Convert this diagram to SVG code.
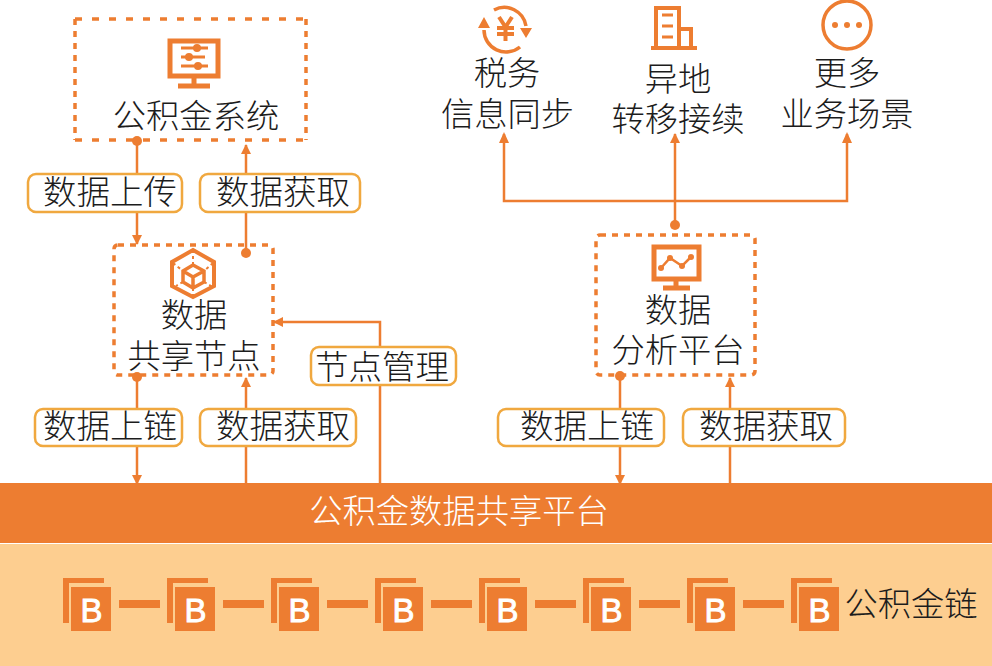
<svg xmlns="http://www.w3.org/2000/svg" width="992" height="666" viewBox="0 0 992 666">
<style>
.t{font-family:"Noto Sans CJK SC","Noto Sans",sans-serif;font-weight:300;font-size:33.3px;fill:#1c1c1c;text-anchor:middle}
.l{font-size:33.500px}
.box{fill:none;stroke:#ED7D31;stroke-width:3.5;stroke-dasharray:6 6}
.sys{stroke-dasharray:7 10}
.sysv{stroke-dasharray:6 6}
.lab{fill:#fff;stroke:#F0A83F;stroke-width:2.5}
.c{fill:none;stroke:#ED7D31;stroke-width:2.5}
.ic{fill:none;stroke:#ED7D31;stroke-width:5}
.ic4{fill:none;stroke:#ED7D31;stroke-width:4}
.ic3{fill:none;stroke:#ED7D31;stroke-width:3}
.f{fill:#ED7D31}
.d{fill:#ED7D31}
.b{font-family:"Liberation Sans",sans-serif;font-size:33px;fill:#fff;stroke:#fff;stroke-width:.9;text-anchor:middle}
</style>
<defs>
<marker id="a" markerWidth="12" markerHeight="14" refX="9" refY="6" orient="auto" markerUnits="userSpaceOnUse"><path d="M0 1L10 6L0 11Z" fill="#ED7D31"/></marker>
<g id="blk"><path d="M0 0H41V5H6V45H0Z" class="f"/><rect x="8" y="9" width="40" height="44" class="f"/><text x="28.5" y="44" class="b">B</text></g>
</defs>
<rect width="992" height="666" fill="#fff"/>
<g id="connectors">
<path class="c" d="M137 141V244" marker-end="url(#a)"/><circle class="d" cx="137" cy="141" r="5"/>
<path class="c" d="M246 253V145" marker-end="url(#a)"/><circle class="d" cx="246" cy="253" r="5"/>
<path class="c" d="M137 377V484" marker-end="url(#a)"/><circle class="d" cx="137" cy="377" r="5"/>
<path class="c" d="M246 484V378" marker-end="url(#a)"/>
<path class="c" d="M380 484V322H274" marker-end="url(#a)"/>
<path class="c" d="M620 376V484" marker-end="url(#a)"/><circle class="d" cx="620" cy="376" r="5"/>
<path class="c" d="M730 484V378" marker-end="url(#a)"/>
<path class="c" d="M675 225V134" marker-end="url(#a)"/><circle class="d" cx="675" cy="225" r="5"/>
<path class="c" d="M504 134V201H847V134"/>
<path d="M499 143L504 132L509 143Z M842 143L847 132L852 143Z" class="f"/>
</g>
<g id="band"><rect y="483" width="992" height="60" fill="#ED7D31"/><rect y="544" width="992" height="122" fill="#FDCE90"/>
<text x="459" y="523" class="t" style="fill:#fff">公积金数据共享平台</text></g>
<g id="node-system"><path class="box sys" d="M75 19H306M75 140H306"/><path class="box sysv" d="M75 19V140M306 19V140"/>
<rect class="ic" x="170" y="41" width="48" height="35"/><path d="M194 76V86M178 86H210" class="ic"/>
<path d="M181 48H208M181 57H205M181 66H208" class="ic3"/><circle class="d" cx="197" cy="48" r="4"/><circle class="d" cx="189" cy="57" r="4"/><circle class="d" cx="198" cy="66" r="4"/>
<text x="196" y="128" class="t">公积金系统</text></g>
<g id="node-share"><rect class="box" x="114" y="245" width="159" height="130" rx="4"/>
<path d="M193 250L214 262V286L193 297L172 286V262Z" class="ic4"/><path d="M193 265L204 271V282L193 288L183 282V271Z M193 277V288M183 271L193 277L204 271" class="ic3" style="stroke-width:3.500"/><path d="M193 250V265M173 263L183 271M213 263L204 271M183 282L176 286M204 282L211 286M193 288V297" class="ic3" style="stroke-width:2;stroke-dasharray:3 3"/>
<text x="194" y="327" class="t">数据</text><text x="194" y="368" class="t">共享节点</text></g>
<g id="node-analysis"><rect class="box" x="596" y="235" width="159" height="140" rx="4"/>
<rect class="ic" x="654" y="247" width="45" height="32"/><path d="M676 279V287M663 288H690" class="ic"/>
<path d="M661 268L670 258L682 266L691 257" class="ic3" style="stroke-width:2.5"/><circle cx="661" cy="268" r="3" class="d"/><circle cx="670" cy="258" r="3" class="d"/><circle cx="682" cy="266" r="3" class="d"/><circle cx="691" cy="257" r="3" class="d"/>
<text x="678" y="322" class="t">数据</text><text x="678" y="362" class="t">分析平台</text></g>
<g id="node-tax">
<path d="M484 30A22 22 0 0 0 520 47" class="ic3" style="stroke-width:3.500"/><path d="M494 10A22 22 0 0 1 526 26" class="ic3" style="stroke-width:3.500"/>
<path d="M478 28L484 17L490 28Z M520 28L532 28L526 38Z" class="f"/>
<path d="M499 17L505.500 27L512 17M505.500 27V41M497 28H514M497 34H514" class="ic4"/>
<text x="507" y="85" class="t">税务</text><text x="507.500" y="126" class="t">信息同步</text></g>
<g id="node-transfer">
<path d="M656 48V8H679V48M679 29H691V48M651 48H697" class="ic4"/><path d="M662 15H673M662 26H673M662 37H673" class="ic3"/>
<text x="678" y="91" class="t">异地</text><text x="678" y="131" class="t">转移接续</text></g>
<g id="node-more">
<circle cx="847" cy="25" r="24" class="ic3" style="stroke-width:3.5"/><circle cx="835" cy="25" r="3" class="d"/><circle cx="847" cy="25" r="3" class="d"/><circle cx="859" cy="25" r="3" class="d"/>
<text x="847" y="85" class="t">更多</text><text x="847" y="126" class="t">业务场景</text></g>
<g id="labels">
<rect class="lab" x="28" y="174" width="154" height="38" rx="8"/><text x="110" y="204" class="t l">数据上传</text>
<rect class="lab" x="200" y="174" width="160" height="38" rx="8"/><text x="283" y="204" class="t l">数据获取</text>
<rect class="lab" x="35" y="409" width="147" height="37" rx="8"/><text x="110" y="438" class="t l">数据上链</text>
<rect class="lab" x="200" y="409" width="156" height="37" rx="8"/><text x="283" y="438" class="t l">数据获取</text>
<rect class="lab" x="311" y="347" width="145" height="38" rx="8"/><text x="382" y="379" class="t l">节点管理</text>
<rect class="lab" x="498" y="409" width="166" height="37" rx="8"/><text x="587" y="438" class="t l">数据上链</text>
<rect class="lab" x="683" y="409" width="162" height="37" rx="8"/><text x="766" y="438" class="t l">数据获取</text>
</g>
<g id="chain">
<use href="#blk" x="63" y="578"/><use href="#blk" x="167" y="578"/><use href="#blk" x="271" y="578"/><use href="#blk" x="375" y="578"/><use href="#blk" x="479" y="578"/><use href="#blk" x="583" y="578"/><use href="#blk" x="687" y="578"/><use href="#blk" x="791" y="578"/>
<path d="M119 604H160M223 604H264M327 604H368M431 604H472M535 604H576M639 604H680M743 604H784" class="ic" style="stroke-width:8"/>
<text x="911" y="616" class="t">公积金链</text></g>
</svg>
